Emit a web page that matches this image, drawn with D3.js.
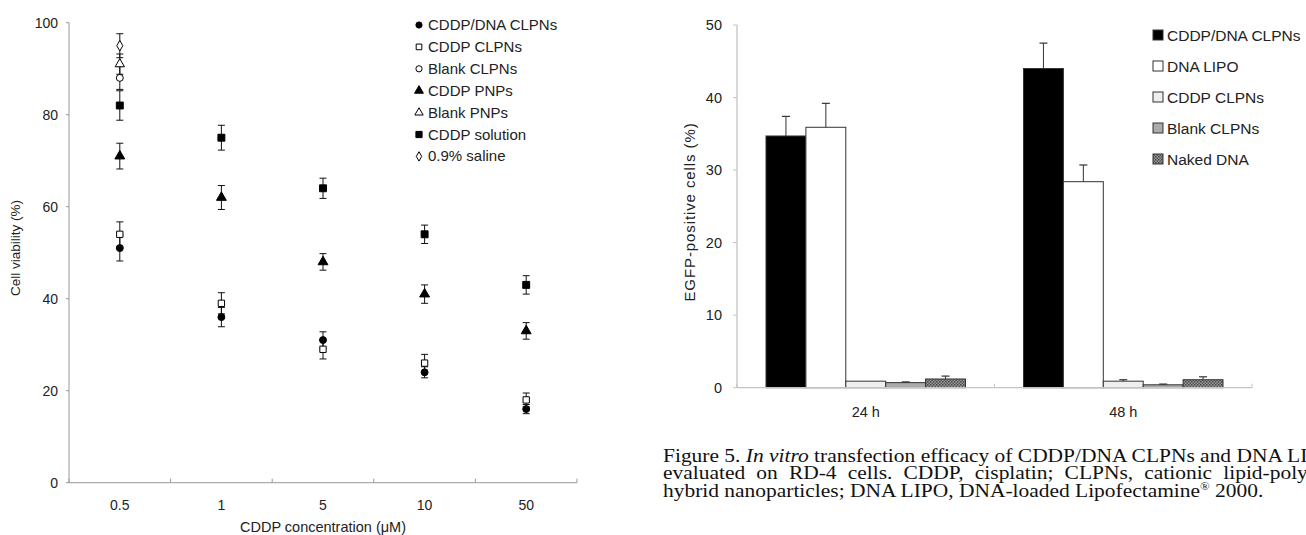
<!DOCTYPE html>
<html>
<head>
<meta charset="utf-8">
<script src="https://cdn.jsdelivr.net/npm/d3@7"></script>
<style>
  body { margin: 0; background: #fff; }
  svg { display: block; }
  text { font-family: "Liberation Sans", Arial, sans-serif; fill: #222; }
  .caption text { font-family: "Liberation Serif", "Times New Roman", serif; fill: #111; }
</style>
</head>
<body>
<svg id="fig" width="1306" height="535"></svg>
<script>
// ---- left panel: cell viability ----
const concentrations = ["0.5", "1", "5", "10", "50"];
const viabilitySeries = ["CDDP/DNA CLPNs", "CDDP CLPNs", "Blank CLPNs", "CDDP PNPs", "Blank PNPs", "CDDP solution", "0.9% saline"];
const viabilityMean = [
  [51, 36, 31, 24, 16],
  [54, 39, 29, 26, 18],
  [88, null, null, null, null],
  [71, 62, 48, 41, 33],
  [91, null, null, null, null],
  [82, 75, 64, 54, 43],
  [95, null, null, null, null]
];
const viabilityErr = [
  [2.8, 2.1, 1.8, 1.2, 1.0],
  [2.7, 2.3, 2.1, 1.9, 1.5],
  [2.5, null, null, null, null],
  [2.8, 2.6, 1.8, 2.0, 1.8],
  [2.2, null, null, null, null],
  [3.2, 2.7, 2.2, 2.0, 2.0],
  [2.6, null, null, null, null]
];
const viabilityTicks = [0, 20, 40, 60, 80, 100];

// ---- right panel: transfection ----
const timepoints = ["24 h", "48 h"];
const transSeries = ["CDDP/DNA CLPNs", "DNA LIPO", "CDDP CLPNs", "Blank CLPNs", "Naked DNA"];
const transMean = [
  [34.7, 44.0],
  [35.9, 28.4],
  [0.9, 0.9],
  [0.7, 0.4],
  [1.2, 1.1]
];
const transErr = [
  [2.7, 3.5],
  [3.3, 2.3],
  [0.0, 0.2],
  [0.1, 0.1],
  [0.4, 0.4]
];
const transTicks = [0, 10, 20, 30, 40, 50];

const captionLines = [
  ["Figure 5. ", "In vitro", " transfection efficacy of CDDP/DNA CLPNs and DNA LIPOs"],
  ["evaluated on RD-4 cells. CDDP, cisplatin; CLPNs, cationic lipid-polymer"],
  ["hybrid nanoparticles; DNA LIPO, DNA-loaded Lipofectamine", "®", " 2000."]
];

const svg = d3.select("#fig");
const axisGray = "#999";

// ================= left chart =================
const x1 = d3.scaleBand().domain(concentrations).range([69, 577]);
const y1 = d3.scaleLinear().domain([0, 100]).range([482.7, 22.7]);

const g1 = svg.append("g");

// y axis
g1.append("line").attr("x1", 69).attr("x2", 69).attr("y1", y1(100)).attr("y2", y1(0))
  .attr("stroke", axisGray);
g1.selectAll(".ytick").data(viabilityTicks).enter().append("line")
  .attr("x1", 66).attr("x2", 69).attr("y1", d => y1(d)).attr("y2", d => y1(d))
  .attr("stroke", axisGray);
g1.selectAll(".ylab").data(viabilityTicks).enter().append("text")
  .attr("x", 58).attr("y", d => y1(d) + 5).attr("text-anchor", "end")
  .attr("font-size", 14).text(d => d);

// x axis
g1.append("line").attr("x1", 69).attr("x2", 577).attr("y1", y1(0)).attr("y2", y1(0))
  .attr("stroke", axisGray);
const bounds1 = concentrations.map(c => x1(c)).concat([x1.range()[1]]);
g1.selectAll(".xtick").data(bounds1).enter().append("line")
  .attr("x1", d => d).attr("x2", d => d).attr("y1", y1(0)).attr("y2", y1(0) - 4)
  .attr("stroke", axisGray);
g1.selectAll(".xlab").data(concentrations).enter().append("text")
  .attr("x", d => x1(d) + x1.bandwidth() / 2).attr("y", 510)
  .attr("text-anchor", "middle").attr("font-size", 14).text(d => d);

g1.append("text").attr("x", 323).attr("y", 532).attr("text-anchor", "middle")
  .attr("font-size", 14.5).text("CDDP concentration (μM)");
g1.append("text").attr("transform", "translate(20,248) rotate(-90)")
  .attr("text-anchor", "middle").attr("font-size", 13.5).text("Cell viability (%)");

// marker shapes
const markerDefs = [
  { type: d3.symbolCircle, fill: "#000", size: 38 },
  { type: d3.symbolSquare, fill: "#fff", size: 40 },
  { type: d3.symbolCircle, fill: "#fff", size: 38 },
  { type: d3.symbolTriangle, fill: "#000", size: 42 },
  { type: d3.symbolTriangle, fill: "#fff", size: 38 },
  { type: d3.symbolSquare, fill: "#000", size: 48 },
  { type: d3.symbolDiamond, fill: "#fff", size: 32 }
];

viabilitySeries.forEach((name, si) => {
  const pts = concentrations.map((c, i) => ({ c: c, v: viabilityMean[si][i], e: viabilityErr[si][i] }))
    .filter(d => d.v !== null);
  const sg = g1.append("g");
  pts.forEach(d => {
    const cx = x1(d.c) + x1.bandwidth() / 2;
    sg.append("line").attr("x1", cx).attr("x2", cx)
      .attr("y1", y1(d.v - d.e)).attr("y2", y1(d.v + d.e)).attr("stroke", "#111");
    [d.v - d.e, d.v + d.e].forEach(v => {
      sg.append("line").attr("x1", cx - 3.5).attr("x2", cx + 3.5)
        .attr("y1", y1(v)).attr("y2", y1(v)).attr("stroke", "#111");
    });
  });
  const m = markerDefs[si];
  sg.selectAll("path").data(pts).enter().append("path")
    .attr("d", d3.symbol().type(m.type).size(m.size))
    .attr("transform", d => "translate(" + (x1(d.c) + x1.bandwidth() / 2) + "," + y1(d.v) + ")")
    .attr("fill", m.fill).attr("stroke", "#000").attr("stroke-width", 1);
});

// left legend
const leg1 = g1.append("g");
viabilitySeries.forEach((name, si) => {
  const ly = 25 + si * 21.9;
  const m = markerDefs[si];
  leg1.append("path").attr("d", d3.symbol().type(m.type).size(m.size * 0.8))
    .attr("transform", "translate(419," + ly + ")")
    .attr("fill", m.fill).attr("stroke", "#000");
  leg1.append("text").attr("x", 428).attr("y", ly + 5).attr("font-size", 15).text(name);
});

// ================= right chart =================
const x2 = d3.scaleBand().domain(timepoints).range([737, 1252]);
const x2inner = d3.scaleBand().domain(transSeries).range([29, x2.bandwidth() - 29]);
const y2 = d3.scaleLinear().domain([0, 50]).range([387.7, 25]);

const defs = svg.append("defs");
const pat = defs.append("pattern").attr("id", "dots").attr("patternUnits", "userSpaceOnUse")
  .attr("width", 3).attr("height", 3);
pat.append("rect").attr("width", 3).attr("height", 3).attr("fill", "#9a9a9a");
pat.append("rect").attr("width", 1.5).attr("height", 1.5).attr("fill", "#444");
pat.append("rect").attr("x", 1.5).attr("y", 1.5).attr("width", 1.5).attr("height", 1.5).attr("fill", "#555");

const barFills = ["#000", "#fff", "#eeeeee", "#aaaaaa", "url(#dots)"];
const axisLight = "#c4c4c4";

const g2 = svg.append("g");

g2.append("line").attr("x1", 737).attr("x2", 737).attr("y1", y2(50)).attr("y2", y2(0))
  .attr("stroke", axisLight).attr("stroke-width", 1.3);
g2.selectAll(".ytick").data(transTicks).enter().append("line")
  .attr("x1", 733).attr("x2", 737).attr("y1", d => y2(d)).attr("y2", d => y2(d))
  .attr("stroke", axisLight);
g2.selectAll(".ylab").data(transTicks).enter().append("text")
  .attr("x", 722).attr("y", d => y2(d) + 5).attr("text-anchor", "end")
  .attr("font-size", 14.5).text(d => d);

g2.append("text").attr("transform", "translate(695,212) rotate(-90)")
  .attr("text-anchor", "middle").attr("font-size", 15).attr("letter-spacing", 0.9)
  .text("EGFP-positive cells (%)");

transSeries.forEach((name, si) => {
  const sg = g2.append("g");
  timepoints.forEach((t, ti) => {
    const bx = x2(t) + x2inner(name);
    const bw = x2inner.bandwidth();
    const v = transMean[si][ti], e = transErr[si][ti];
    sg.append("rect").attr("x", bx).attr("y", y2(v)).attr("width", bw)
      .attr("height", y2(0) - y2(v)).attr("fill", barFills[si])
      .attr("stroke", "#333").attr("stroke-width", 1);
    if (e > 0) {
      const cx = bx + bw / 2;
      sg.append("line").attr("x1", cx).attr("x2", cx).attr("y1", y2(v)).attr("y2", y2(v + e))
        .attr("stroke", "#333");
      sg.append("line").attr("x1", cx - 4).attr("x2", cx + 4).attr("y1", y2(v + e)).attr("y2", y2(v + e))
        .attr("stroke", "#333").attr("stroke-width", 1.2);
    }
  });
});

// x axis on top of bars
g2.append("line").attr("x1", 737).attr("x2", 1252).attr("y1", y2(0)).attr("y2", y2(0))
  .attr("stroke", axisLight).attr("stroke-width", 1.3);
const bounds2 = timepoints.map(t => x2(t)).concat([x2.range()[1]]);
g2.selectAll(".xtick").data(bounds2).enter().append("line")
  .attr("x1", d => d).attr("x2", d => d).attr("y1", y2(0)).attr("y2", y2(0) - 4)
  .attr("stroke", axisLight);
g2.selectAll(".xlab").data(timepoints).enter().append("text")
  .attr("x", d => x2(d) + x2.bandwidth() / 2).attr("y", 417)
  .attr("text-anchor", "middle").attr("font-size", 14.5).text(d => d);

// right legend
const leg2 = g2.append("g");
transSeries.forEach((name, si) => {
  const ly = 35 + si * 31;
  leg2.append("rect").attr("x", 1153).attr("y", ly - 5).attr("width", 10).attr("height", 10)
    .attr("fill", barFills[si]).attr("stroke", "#333");
  leg2.append("text").attr("x", 1167).attr("y", ly + 5.5).attr("font-size", 15.5).text(name);
});

// ================= caption =================
// the caption in the source is slightly wider than plain Times, so stretch it a little
const cap = svg.append("g").attr("class", "caption")
  .attr("transform", "translate(663,0) scale(1.16,1)");
captionLines.forEach((parts, li) => {
  const t = cap.append("text").attr("x", 0).attr("y", 462 + li * 17.5).attr("font-size", 18.5);
  if (li === 1) t.attr("word-spacing", 5);
  parts.forEach(p => {
    const ts = t.append("tspan").text(p);
    if (p === "In vitro") ts.attr("font-style", "italic");
    if (p === "®") ts.attr("font-size", 11).attr("dy", -7);
    if (p === " 2000.") ts.attr("dy", 7);
  });
});
</script>
</body>
</html>
